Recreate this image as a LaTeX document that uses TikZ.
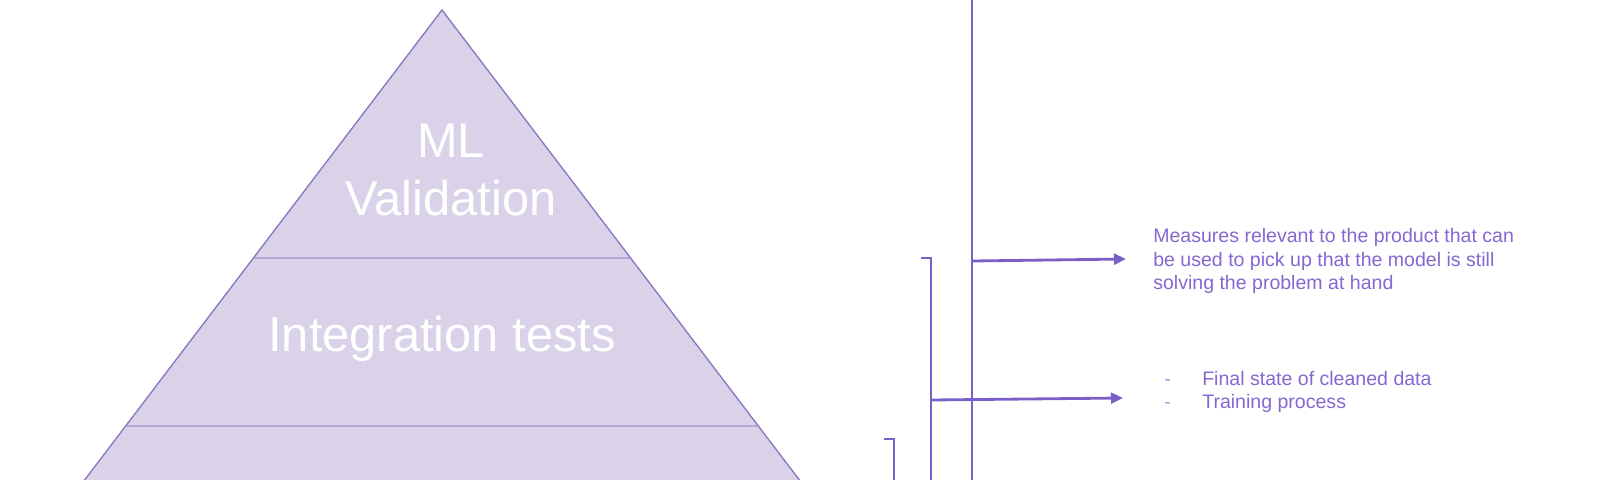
\documentclass[tikz,border=0pt]{standalone}
\usepackage{fontspec}
\setmainfont{Liberation Sans}
\usepackage{xcolor}
\usetikzlibrary{positioning,arrows.meta,calc}

\definecolor{pyrfill}{HTML}{D9D2E9}
\definecolor{pyredge}{HTML}{8E7CC3}
\definecolor{pyrline}{HTML}{B4A7D6}
\definecolor{linepurple}{HTML}{7A60C6}
\definecolor{notepurple}{HTML}{8468D0}

\begin{document}
\begin{tikzpicture}[
    x=0.025cm, y=-0.025cm,
    pyramid/.style={fill=pyrfill, draw=pyredge, line width=0.8pt, line join=miter},
    divider/.style={draw=pyrline, line width=1.7pt},
    bigtext/.style={text=white, align=center, inner sep=0pt,
                    font=\fontsize{34.7}{41.3}\selectfont},
    note/.style={text=notepurple, align=left, anchor=west, inner sep=0pt,
                 font=\fontsize{13.9}{16.7}\selectfont},
    bracket/.style={draw=linepurple, line width=1.3pt},
    arrow/.style={-{Triangle[length=0.3cm, width=0.27cm]}, draw=linepurple,
                  fill=linepurple, line width=2pt}
]
\useasboundingbox (0,0) rectangle (1600,480);
\clip (0,0) rectangle (1600,480);

% pyramid
\draw[pyramid] (442,10) -- (77,490) -- (807,490) -- cycle;
\draw[divider] (254,258) -- (630,258);
\draw[divider] (126,426) -- (758,426);
\draw[pyramid, fill=none] (442,10) -- (77,490) (442,10) -- (807,490);

\node[bigtext] (mlval) at (451,170) {ML\\Validation};
\node[bigtext] (integ) at (442,339) {Integration tests};

% notes
\node[note] (measures) at (1153,261)
    {Measures relevant to the product that can\\
     be used to pick up that the model is still\\
     solving the problem at hand};
\node[note] (steps) at (1164,392)
    {\makebox[0.95cm][l]{\textcolor{notepurple!70}{-}}Final state of cleaned data\\
     \makebox[0.95cm][l]{\textcolor{notepurple!70}{-}}Training process};

% brackets
\coordinate (b1top) at (972,-10);
\coordinate (b1bot) at (972,490);
\coordinate (b2top) at (921,258);
\coordinate (b2bot) at (931,490);
\coordinate (b3top) at (884,439);
\coordinate (b3bot) at (894,490);

\draw[bracket] (b1top) -- (b1bot);
\draw[bracket] (b2top) -- (b2top -| b2bot) -- (b2bot);
\draw[bracket] (b3top) -- (b3top -| b3bot) -- (b3bot);

% arrows
\coordinate (j1) at (972,261);
\coordinate (tip1) at (1126,259);
\coordinate (j2) at (931,400);
\coordinate (tip2) at (1123,398);

\draw[arrow] (j1) -- (tip1);
\draw[arrow] (j2) -- (tip2);

\end{tikzpicture}
\end{document}
